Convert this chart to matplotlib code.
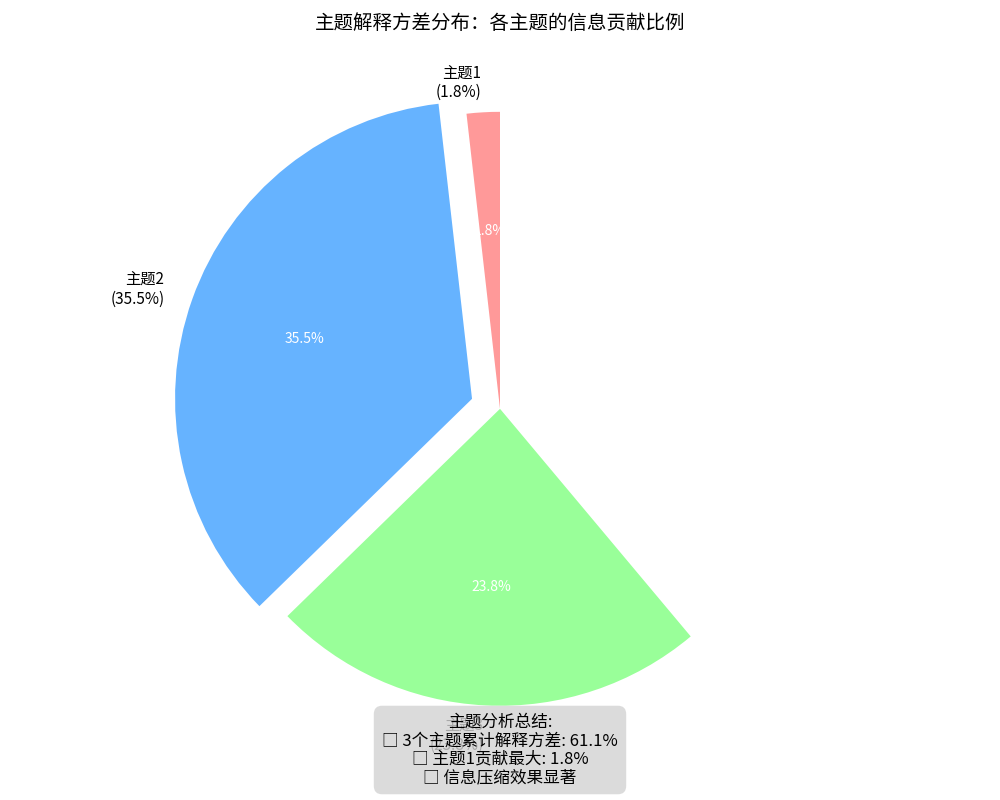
import matplotlib
matplotlib.use('Agg')
import matplotlib.pyplot as plt

plt.rcParams['font.family'] = ['Noto Sans CJK SC', 'DejaVu Sans']
plt.rcParams['axes.unicode_minus'] = False

topics = ['主题1', '主题2', '主题3']
variance = [0.018, 0.355, 0.238]
colors = ['#ff9999', '#66b3ff', '#99ff99']
explode = [0, 0.1, 0]

labels = [f'{t}\n({v*100:.1f}%)' for t, v in zip(topics, variance)]

fig = plt.figure(figsize=(10, 8), dpi=100)
ax = fig.add_axes([0, 0.025, 1, 0.928])

wedges, texts, autotexts = ax.pie(variance, labels=labels, colors=colors,
                                  explode=explode, autopct='%1.1f%%',
                                  startangle=90, normalize=False,
                                  textprops={'fontsize': 11})
for t in autotexts:
    t.set_color('white')
    t.set_fontsize(10)
ax.set_aspect('equal')
ax.set_title('主题解释方差分布：各主题的信息贡献比例', fontsize=14)

total = sum(variance) * 100
summary = (f'主题分析总结:\n'
           f'□ {len(topics)}个主题累计解释方差: {total:.1f}%\n'
           f'□ 主题1贡献最大: {variance[0]*100:.1f}%\n'
           f'□ 信息压缩效果显著')
fig.text(0.5, 0.0625, summary, ha='center', va='center', fontsize=12,
         multialignment='center', linespacing=1.1,
         bbox=dict(boxstyle='round,pad=0.5', facecolor='lightgray', edgecolor='none', alpha=0.8))

fig.savefig('out.png', dpi=100)
